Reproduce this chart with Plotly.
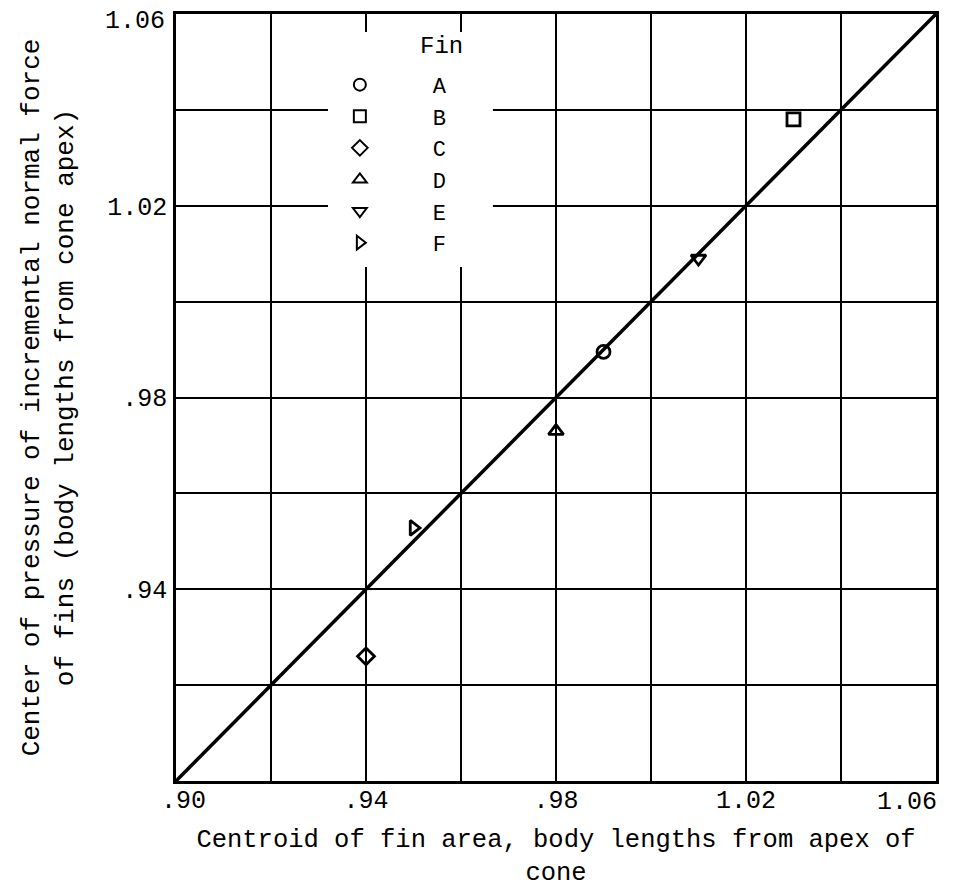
import plotly.graph_objects as go

# Data
fins = ["A", "B", "C", "D", "E", "F"]
centroid = [0.990, 1.030, 0.940, 0.980, 1.010, 0.950]
center_pressure = [0.9895, 1.0380, 0.9260, 0.9730, 1.0090, 0.9528]
symbols = ["circle-open", "square-open", "diamond-open",
           "triangle-up-open", "triangle-down-open", "triangle-right-open"]

line_x = [0.90, 1.06]
line_y = [0.90, 1.06]

NB = "\u00a0"
grid_vals = [0.90, 0.92, 0.94, 0.96, 0.98, 1.00, 1.02, 1.04, 1.06]
x_ticktext = [NB + ".90", "", ".94", "", ".98", "", "1.02", "", ""]
y_ticktext = ["", "", ".94", "", ".98", "", "1.02", "", ""]
edge_label = "1.06"
edge_value = 1.06

FONT = "Liberation Mono"

fig = go.Figure()

fig.add_trace(go.Scatter(
    x=line_x, y=line_y, mode="lines",
    line=dict(color="black", width=3.5),
    showlegend=False, hoverinfo="skip"))

for i, f in enumerate(fins):
    fig.add_trace(go.Scatter(
        x=[centroid[i]], y=[center_pressure[i]],
        mode="markers",
        name=NB * 4 + f,
        legendgroup=f,
        marker=dict(symbol=symbols[i], size=13, color="black",
                    line=dict(color="black", width=2.8)),
    ))

# white panel behind the legend (covers the grid like the original key box)
fig.add_shape(type="rect", xref="paper", yref="paper",
              x0=0.2, x1=0.417, y0=0.670, y1=0.9765,
              fillcolor="white", line=dict(width=0), layer="above")

fig.add_annotation(text="Fin", xref="paper", yref="paper",
                   x=0.3487, y=0.957, xanchor="center", yanchor="middle",
                   showarrow=False, font=dict(size=24, family=FONT))

# edge tick labels
fig.add_annotation(text=edge_label, xref="x", yref="paper",
                   x=edge_value, y=0, xanchor="right", yanchor="top",
                   xshift=3, yshift=-5, showarrow=False,
                   font=dict(size=25, family=FONT))
fig.add_annotation(text=edge_label, xref="paper", yref="y",
                   x=0, y=edge_value, xanchor="right", yanchor="middle",
                   xshift=-9, yshift=-7, showarrow=False,
                   font=dict(size=25, family=FONT))

fig.update_layout(
    width=960, height=880,
    margin=dict(l=168, r=32, t=6, b=107),
    paper_bgcolor="white", plot_bgcolor="white",
    font=dict(family=FONT, color="black", size=25),
    showlegend=True,
    legend=dict(
        x=0.2156, y=0.935, xanchor="left", yanchor="top",
        bgcolor="rgba(0,0,0,0)", borderwidth=0,
        font=dict(size=22, family=FONT),
        tracegroupgap=0,
        itemsizing="constant",
    ),
    xaxis=dict(
        range=[0.90, 1.06], tickvals=grid_vals, ticktext=x_ticktext,
        showgrid=True, gridcolor="black", gridwidth=2,
        showline=True, linecolor="black", linewidth=2.5, mirror=True,
        zeroline=False, ticks="", ticklen=0, ticklabelstandoff=-6,
        ticklabeloverflow="allow", automargin=False,
        title=dict(text="Centroid of fin area, body lengths from apex of<br>cone",
                   font=dict(size=25.5), standoff=27),
    ),
    yaxis=dict(
        range=[0.90, 1.06], tickvals=grid_vals, ticktext=y_ticktext,
        showgrid=True, gridcolor="black", gridwidth=2,
        showline=True, linecolor="black", linewidth=2.5, mirror=True,
        zeroline=False, ticks="", ticklen=0, ticklabelstandoff=1,
        ticklabeloverflow="allow", automargin=False,
        title=dict(text="Center of pressure of incremental normal force<br>of fins (body lengths from cone apex)",
                   font=dict(size=26), standoff=27),
    ),
)

fig.write_html("out.html")
